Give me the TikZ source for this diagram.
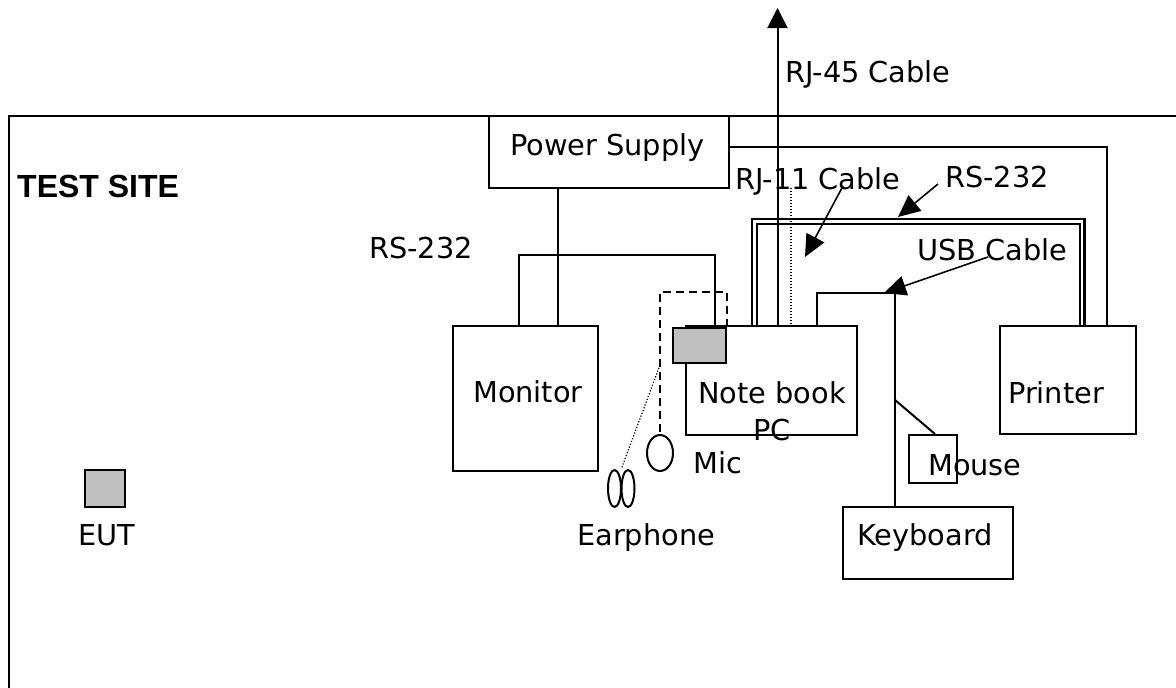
\documentclass[tikz,border=0pt]{standalone}
\usepackage{fontspec}
\setmainfont{DejaVu Sans}
\newfontfamily\arialbold{Liberation Sans}
\usetikzlibrary{arrows.meta,shapes.geometric,calc}
\definecolor{eutgray}{HTML}{C0C0C0}
\begin{document}
\begin{tikzpicture}[x=1pt,y=-1pt,
  lw/.style={line width=2pt},
  box/.style={draw,lw,inner sep=0pt,minimum width=#1},
  boxh/.style={minimum height=#1},
  gbox/.style={draw,lw,fill=eutgray,inner sep=0pt},
  lbl/.style={inner sep=0pt,anchor=base west,font=\fontsize{28.8}{32}\selectfont},
  wire/.style={lw},
  dotwire/.style={line width=1.2pt,dash pattern=on 1.2pt off 1.8pt},
  dashwire/.style={lw,dash pattern=on 8pt off 5pt},
  dbl/.style={line width=2.3pt,double=white,double distance=2.4pt},
  arr/.style={line width=1.6pt,-{Triangle[length=22pt,width=20pt]}},
  ear/.style={draw,lw,ellipse,inner sep=0pt}]
\useasboundingbox (0,0) rectangle (1176,688);
% frame
\coordinate (f1) at (9,700);
\coordinate (f2) at (9,116);
\coordinate (f3) at (1190,116);
\draw[lw] (f1) -- (f2) -- (f3);
\node[lbl,font=\arialbold\bfseries\fontsize{32}{36}\selectfont] (site) at (17,197) {TEST SITE};

% boxes
\node[box=240,boxh=72] (ps) at (609,152) {};
\node[box=145,boxh=145] (mon) at (525.5,398.5) {};
\node[box=171,boxh=109] (nb) at (771.5,380.5) {};
\node[gbox,minimum width=53,minimum height=35] (gb) at (699.5,345.5) {};
\node[box=136,boxh=108] (pr) at (1068,380) {};
\node[box=48,boxh=48] (ms) at (933,459) {};
\node[box=170,boxh=72] (kb) at (928,543) {};
\node[gbox,minimum width=40,minimum height=37] (eut) at (105,488.5) {};
\node[ear,minimum width=26,minimum height=36] (mic) at (660,453) {};
\node[ear,minimum width=13,minimum height=37] (e1) at (614.5,488.5) {};
\node[ear,minimum width=13,minimum height=37] (e2) at (628,488.5) {};

% texts
\node[lbl] (tps) at (510,155) {Power Supply};
\node[lbl] (tmon) at (473,402) {Monitor};
\node[lbl] (tnb) at (698,403) {Note book};
\node[lbl] (tpc) at (753,440) {PC};
\node[lbl] (tpr) at (1008,403) {Printer};
\node[lbl] (tms) at (928,475) {Mouse};
\node[lbl] (tkb) at (857,545) {Keyboard};
\node[lbl] (teut) at (78,545) {EUT};
\node[lbl] (tmic) at (693,473) {Mic};
\node[lbl] (tear) at (577,545) {Earphone};
\node[lbl] (trs1) at (369,258) {RS-232};
\node[lbl] (trj45) at (785,82) {RJ-45 Cable};
\node[lbl] (trj11) at (735,189) {RJ-11 Cable};
\node[lbl] (trs2) at (945,187) {RS-232};
\node[lbl] (tusb) at (917,260) {USB Cable};

% power supply to monitor
\draw[wire] ([xshift=-51pt]ps.south) coordinate (p1) -- (p1 |- mon.north);
% RS-232 monitor to notebook port
\coordinate (r1) at (519,255);
\draw[wire] (r1 |- mon.north) -- (r1) -| ([xshift=15.5pt]gb.north);
% mic (dashed)
\coordinate (d1) at (660,292);
\draw[dashwire] (gb.north east) |- (d1) -- (mic.north);
% earphone (dotted)
\coordinate (d2) at (660,365);
\draw[dotwire] (d2) -- ($(e1.north)!0.5!(e2.north)$);
% RS-232 double to printer
\coordinate (q1) at (754.5,221.5);
\draw[dbl] (q1 |- nb.north) -- (q1) -| ([xshift=14pt]pr.north);
% RJ-45
\coordinate (rj45) at (777.5,8);
\draw[wire,-{Triangle[length=20pt,width=20pt]}] (rj45 |- nb.north) -- (rj45);
% RJ-11 dotted
\coordinate (rj11) at (791,188);
\draw[dotwire] (rj11) -- (rj11 |- nb.north);
% power supply to printer
\draw[wire] ([yshift=5pt]ps.east) -| ([xshift=39pt]pr.north);
% USB
\coordinate (u1) at (817,293);
\draw[wire] (u1 |- nb.north) -- (u1) -| ([xshift=-33pt]kb.north);
% mouse
\coordinate (m1) at (895,400);
\draw[wire] (m1) -- ([xshift=2pt]ms.north);
% label arrows
\coordinate (a1s) at (843,186);
\coordinate (a1e) at (805,257);
\draw[arr] (a1s) -- (a1e);
\coordinate (a2s) at (938,184);
\coordinate (a2e) at (898,217);
\draw[arr] (a2s) -- (a2e);
\coordinate (a3s) at (988,257);
\coordinate (a3e) at (884,293);
\draw[arr] (a3s) -- (a3e);
\end{tikzpicture}
\end{document}
